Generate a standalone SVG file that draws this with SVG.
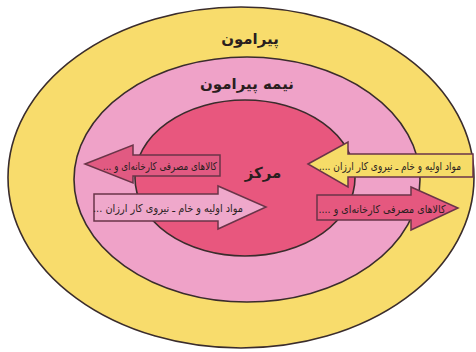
<svg xmlns="http://www.w3.org/2000/svg" width="476" height="352" viewBox="0 0 476 352">
<style>
.ring{stroke:#3a2c2c;stroke-width:1.6}
.arr{stroke:#6a3448;stroke-width:1.5;stroke-linejoin:miter}
.title{font-family:"DejaVu Sans",sans-serif;font-weight:bold;font-size:15px;fill:#2a1e1e;text-anchor:middle}
.lbl{font-family:"DejaVu Sans",sans-serif;font-size:11px;fill:#2a1e1e;text-anchor:middle}
</style>
<rect width="476" height="352" fill="#ffffff"/>
<g id="outer">
<ellipse class="ring" cx="241" cy="177.5" rx="233" ry="170.5" fill="#F8DC6C"/>
<text class="title" x="250" y="44" direction="rtl">پیرامون</text>
</g>
<g id="semi">
<ellipse class="ring" cx="247" cy="179.5" rx="173" ry="122.5" fill="#EFA2C8"/>
<text class="title" x="247" y="89" direction="rtl">نیمه پیرامون</text>
</g>
<g id="core">
<ellipse class="ring" cx="245" cy="178" rx="110" ry="78" fill="#E8577E"/>
<text class="title" x="263" y="178" direction="rtl">مرکز</text>
</g>
<g id="connectors">
<g id="arrow1">
<path class="arr" d="M85,164 L133,145 L133,155 L220,155 L220,176 L133,176 L133,183 Z" fill="#E15A82"/>
<text class="lbl" x="160" y="169.5" direction="rtl" textLength="114" lengthAdjust="spacingAndGlyphs">کالاهای مصرفی کارخانه‌ای و ...</text>
</g>
<g id="arrow2">
<path class="arr" d="M94,194 L218,194 L218,186 L266,207 L218,229 L218,221 L94,221 Z" fill="#EFA8CB"/>
<text class="lbl" x="168" y="211.5" direction="rtl" textLength="150" lengthAdjust="spacingAndGlyphs">مواد اولیه و خام ـ نیروی کار ارزان ...</text>
</g>
<g id="arrow3">
<path class="arr" d="M308,164 L348,142 L348,154 L473,154 L473,177 L348,177 L348,187 Z" fill="#F6DC68"/>
<text class="lbl" x="390" y="169.5" direction="rtl" textLength="142" lengthAdjust="spacingAndGlyphs">مواد اولیه و خام ـ نیروی کار ارزان ....</text>
</g>
<g id="arrow4">
<path class="arr" d="M317,195 L411,195 L411,187 L458,208 L411,230 L411,220 L317,220 Z" fill="#E5587F"/>
<text class="lbl" x="382" y="212.5" direction="rtl" textLength="127" lengthAdjust="spacingAndGlyphs">کالاهای مصرفی کارخانه‌ای و ....</text>
</g>
</g>
</svg>
